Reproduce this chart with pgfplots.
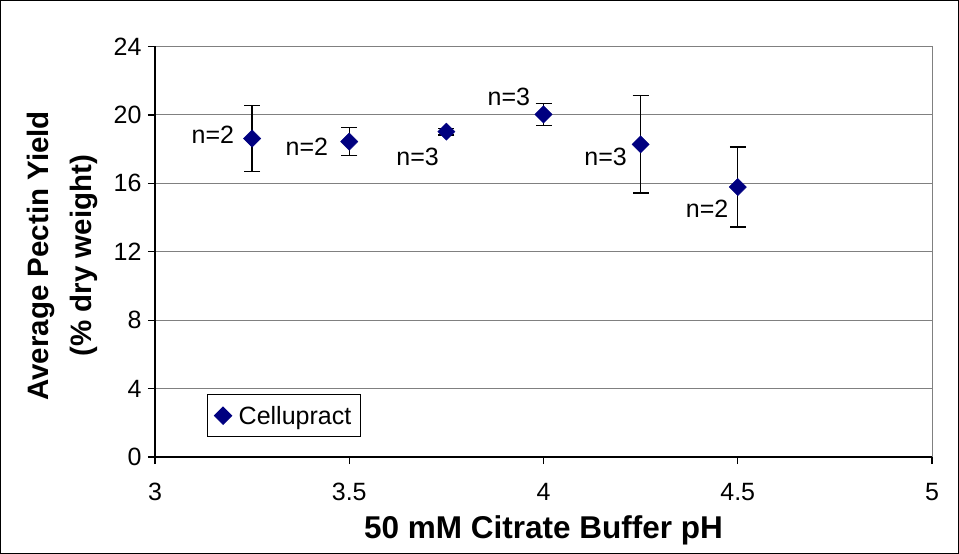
\documentclass[border=0pt]{standalone}
\usepackage{pgfplots}
\pgfplotsset{compat=1.18}
\usepackage{pgfplotstable}
\usepackage{fontspec}
\setmainfont{Liberation Sans}
\definecolor{navyblue}{RGB}{0,0,128}
\definecolor{gridgray}{RGB}{128,128,128}
\pgfplotstableread{
x y e
3.25 18.62 1.92
3.50 18.44 0.82
3.75 19.02 0.20
4.00 20.03 0.65
4.25 18.28 2.85
4.50 15.78 2.34
}\datatable
\begin{document}
\begin{tikzpicture}
\path[use as bounding box] (0,0) rectangle (959bp,554bp);
\draw[black, line width=1bp] (0.5bp,0.5bp) rectangle (958.5bp,553.5bp);
\begin{axis}[
  at={(155bp,97bp)}, anchor=south west,
  scale only axis, width=777bp, height=410.5bp,
  xmin=3, xmax=5, ymin=0, ymax=24,
  xtick={3,3.5,4,4.5,5}, ytick={0,4,8,12,16,20,24},
  xticklabels={3,3.5,4,4.5,5},
  /pgf/number format/assume math mode=true,
  ticklabel style={font=\fontsize{25bp}{29bp}\selectfont},
  axis line style={gridgray, line width=1bp},
  ymajorgrids, major grid style={gridgray, line width=1bp},
  tick align=outside, xtick pos=bottom, ytick pos=left,
  major tick length=7bp,
  tick style={black, line width=1.2bp},
  yticklabel style={xshift=-3bp},
  xticklabel style={yshift=-16bp},
  xlabel={\bfseries 50 mM Citrate Buffer pH},
  xlabel style={font=\fontsize{31.5bp}{36bp}\selectfont, at={(axis description cs:0.5,-0.178)}, anchor=center},
  ylabel={\bfseries Average Pectin Yield\\\bfseries (\% dry weight)},
  ylabel style={font=\fontsize{29.5bp}{43bp}\selectfont, align=center, at={(axis description cs:-0.1185,0.49)}, anchor=center},
  legend style={at={(axis description cs:0.0669,0.0487)}, anchor=south west, draw=black, line width=1bp, font=\fontsize{25bp}{29bp}\selectfont, inner xsep=7bp, inner ysep=9bp},
  legend cell align=left,
  clip=false,
]
\addplot[only marks, mark=square*, mark size=6.1bp, mark options={rotate=45, fill=navyblue, draw=navyblue},
  error bars/.cd, y dir=both, y explicit,
  error bar style={black, line width=1.3bp},
  error mark options={rotate=90, mark size=8bp, black, line width=1.3bp}]
  table[x=x, y=y, y error=e] {\datatable};
\addlegendentry{\hspace{5bp}Cellupract}
\draw[black, line width=1.3bp] (rel axis cs:0,1) -- (rel axis cs:0,0) -- (rel axis cs:1,0);
\begin{scope}[every node/.style={font=\fontsize{25bp}{29bp}\selectfont, inner sep=0pt}]
\node at (axis cs:3.149,18.83) {n=2};
\node at (axis cs:3.391,18.14) {n=2};
\node at (axis cs:3.676,17.56) {n=3};
\node at (axis cs:3.911,21.07) {n=3};
\node at (axis cs:4.160,17.56) {n=3};
\node at (axis cs:4.421,14.54) {n=2};
\end{scope}
\end{axis}
\end{tikzpicture}
\end{document}
